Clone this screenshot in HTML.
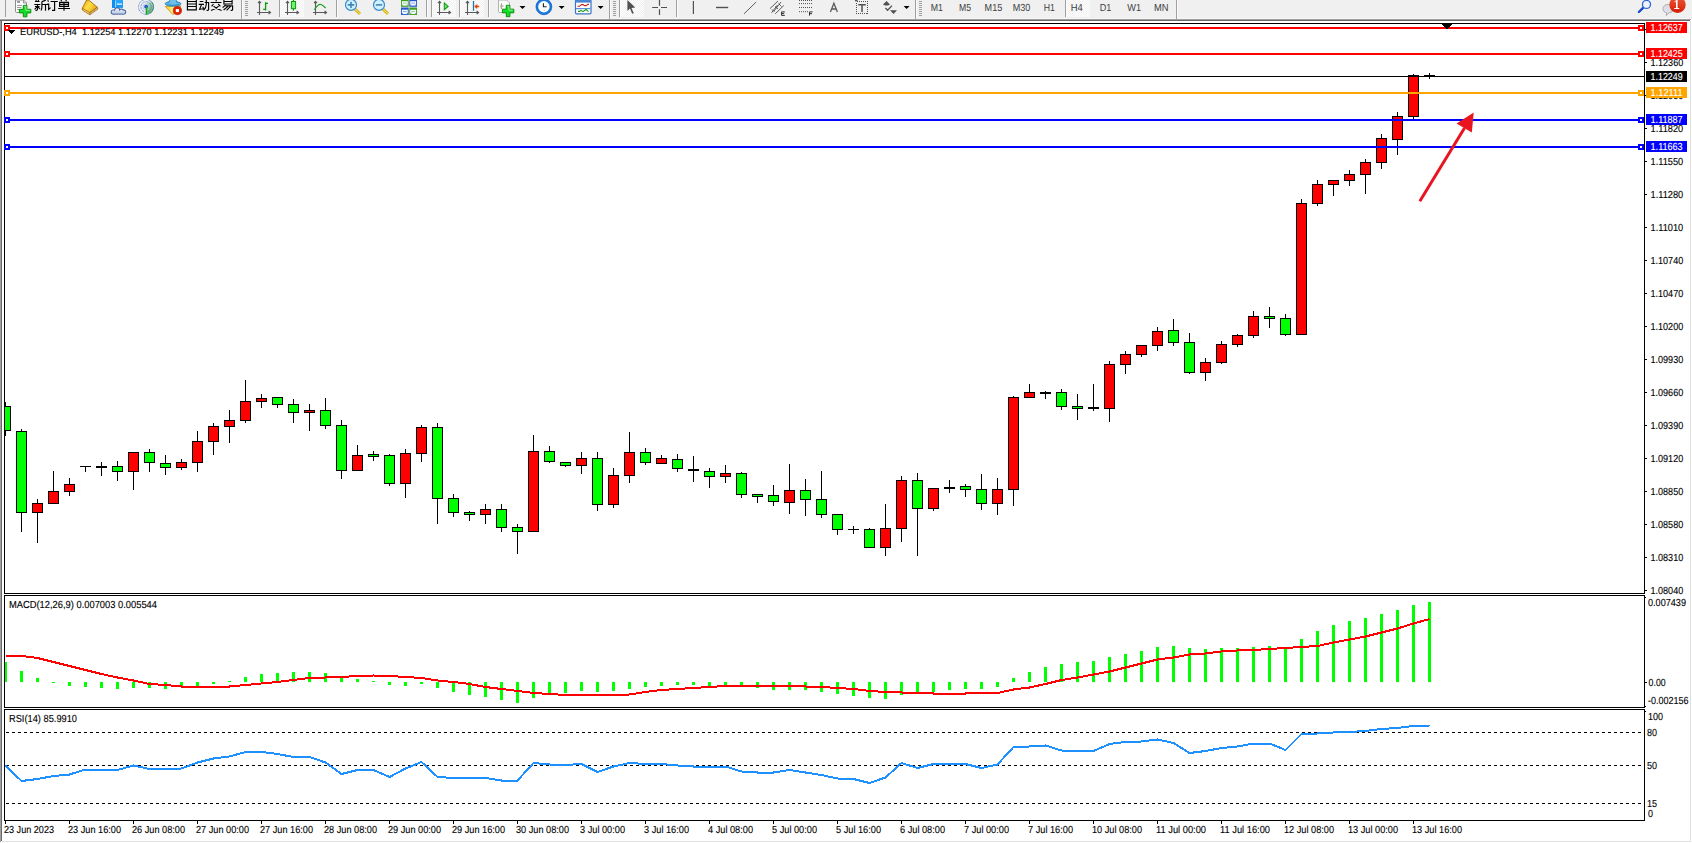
<!DOCTYPE html>
<html><head><meta charset="utf-8"><title>EURUSD H4</title>
<style>
html,body{margin:0;padding:0;background:#fff;overflow:hidden}
body{width:1692px;height:843px;position:relative;font-family:"Liberation Sans",sans-serif}
svg{position:absolute;left:0;top:0;display:block}
svg text{font-family:"Liberation Sans",sans-serif;text-rendering:geometricPrecision}
</style></head><body>
<svg width="1692" height="843" viewBox="0 0 1692 843" shape-rendering="crispEdges">
<defs>
<clipPath id="cm"><rect x="5" y="24" width="1639" height="569"/></clipPath>
<clipPath id="cmacd"><rect x="5" y="596" width="1639" height="111"/></clipPath>
<clipPath id="crsi"><rect x="5" y="710" width="1639" height="110"/></clipPath>
<pattern id="hatch" width="2" height="2" patternUnits="userSpaceOnUse"><rect width="2" height="2" fill="#f0f0f0"/><rect width="1" height="1" fill="#fff"/><rect x="1" y="1" width="1" height="1" fill="#fff"/></pattern>
<linearGradient id="gold" x1="0" y1="0" x2="1" y2="0.6"><stop offset="0" stop-color="#d89c14"/><stop offset="0.5" stop-color="#ffe040"/><stop offset="1" stop-color="#e0a820"/></linearGradient>
<linearGradient id="cloud" gradientUnits="userSpaceOnUse" x1="0" y1="7.5" x2="0" y2="14"><stop offset="0" stop-color="#ffffff"/><stop offset="1" stop-color="#b4c4de"/></linearGradient>
<linearGradient id="siggreen" gradientUnits="userSpaceOnUse" x1="146" y1="0" x2="152" y2="14"><stop offset="0" stop-color="#e4efe4"/><stop offset="1" stop-color="#4fae4f"/></linearGradient>
<linearGradient id="cone" x1="0" y1="0" x2="1" y2="0"><stop offset="0" stop-color="#f0c828"/><stop offset="0.5" stop-color="#fbf08a"/><stop offset="1" stop-color="#f0c020"/></linearGradient>
<linearGradient id="badge" x1="0" y1="0" x2="0" y2="1"><stop offset="0" stop-color="#ea5a38"/><stop offset="1" stop-color="#d61c04"/></linearGradient>
</defs>
<rect x="0" y="0" width="1692" height="843" fill="#fff"/>
<!-- window chrome -->
<rect x="0" y="0" width="1692" height="18" fill="#f0f0f0"/>
<rect x="0" y="18" width="1691" height="1" fill="#f6f6f6"/>
<rect x="1691" y="17" width="1" height="2" fill="#ececec"/>
<rect x="0" y="19" width="1691" height="1" fill="#a0a0a0"/>
<rect x="0" y="20" width="1690" height="1" fill="#696969"/>
<rect x="0" y="21" width="1" height="821" fill="#a0a0a0"/>
<rect x="1" y="21" width="1" height="820" fill="#696969"/>
<rect x="1690" y="21" width="1" height="821" fill="#e0e0e0"/>
<rect x="2" y="841" width="1689" height="1" fill="#e0e0e0"/>
<g shape-rendering="auto">
<rect x="5" y="0" width="1" height="17" fill="#a0a0a0"/>
<path d="M15.5,0V11.3Q15.5,12.5 16.8,12.5H26.5V3L23.5,0Z" fill="#fdfdfd" stroke="#8c8c8c" stroke-width="1"/>
<path d="M23.5,0V3H26.5" fill="none" stroke="#8c8c8c" stroke-width="0.9"/>
<path d="M17,2H20 M17,5.5H22 M17,7.5H21.5 M17,9.5H19" stroke="#9a9a9a" stroke-width="1"/>
<rect x="17" y="1.2" width="3" height="1.5" fill="#8c8c8c"/>
<path d="M23.3,5.4h3.6v3.9h3.9v3.6h-3.9v3.9h-3.6v-3.9h-3.9v-3.6h3.9z" fill="#10e028" stroke="#108c10" stroke-width="1"/>
<path d="M24.3,6.4h1.6v3.9h3.9" stroke="#9cf59c" stroke-width="0.9" fill="none"/>
<g stroke="#000" stroke-width="1.15" fill="none" stroke-linecap="butt">
<path d="M35,1.5H39.5 M36,0L36.3,1 M38.6,0L38.2,1 M34.3,4.5H40.3 M35,6.5H39.5 M37.5,4.5V10 M37.5,10.3L35.5,10.4 M36.8,7.2L34.6,9.4 M38.3,7.2L40,8.8"/>
<path d="M45.8,0.2L42,1.6 M41.9,1.6V6.5Q41.9,9 41,10.5 M42,4.5H48.3 M45.5,4.5V10.7"/>
<path d="M47.6,0.3L48.6,1.6 M47.3,4.2H48.7V9.4L50.6,7.6 M50.6,1.5H57.8 M54.6,1.5V10.4H52"/>
<path d="M61,0L61.6,1.2 M66.4,0L65.8,1.2 M59.6,2.4H68.5V6.4H59.6Z M59.6,4.4H68.5 M64,2.4V10.8 M58.2,8.5H70"/>
</g>
<polygon points="86.6,0 82.3,8.3 89.6,12.7 97.3,7.3 89.8,1 88.7,0" fill="url(#gold)" stroke="#a8680e" stroke-width="0.9"/>
<polygon points="82.2,8.4 82.5,10.2 89.7,14.7 89.7,12.7" fill="#e2b030" stroke="#a8680e" stroke-width="0.8"/>
<path d="M83.2,9.6L89.4,13.4" stroke="#f8e08a" stroke-width="0.8"/>
<polygon points="89.8,12.8 97.4,7.4 97.9,9.1 89.9,14.7" fill="#efe2b4" stroke="#a8680e" stroke-width="0.8"/>
<path d="M90.2,13.6L97.6,8.3" stroke="#b88428" stroke-width="0.6"/>
<rect x="112" y="0" width="11" height="8" fill="#24a4fc"/>
<rect x="112" y="0" width="3.4" height="8" fill="#0a8ef0"/>
<rect x="115.3" y="0.5" width="0.8" height="7" fill="#c8ecff"/>
<rect x="117" y="3.5" width="5" height="1.3" fill="#e8f6ff"/>
<rect x="116.2" y="5.4" width="6.8" height="1" fill="#1488e0"/>
<circle cx="113.3" cy="12.0" r="2.6" fill="#3c5c9c"/>
<circle cx="117.2" cy="10.3" r="3.0" fill="#3c5c9c"/>
<circle cx="121.4" cy="11.0" r="2.5" fill="#3c5c9c"/>
<circle cx="123.7" cy="12.1" r="2.5" fill="#3c5c9c"/>
<rect x="113.3" y="11" width="10.4" height="3.6" fill="#3c5c9c"/>
<circle cx="113.3" cy="12.0" r="1.7000000000000002" fill="url(#cloud)"/>
<circle cx="117.2" cy="10.3" r="2.1" fill="url(#cloud)"/>
<circle cx="121.4" cy="11.0" r="1.6" fill="url(#cloud)"/>
<circle cx="123.7" cy="12.1" r="1.6" fill="url(#cloud)"/>
<rect x="113.3" y="11" width="10.4" height="2.7" fill="url(#cloud)"/>
<path d="M146.05,6.9L148.07,-0.63A7.8,7.8 0 0 1 146.05,14.70Z" fill="url(#siggreen)"/>
<circle cx="146.05" cy="6.9" r="7.5" fill="none" stroke="#7f9fe0" stroke-width="1" stroke-dasharray="3,0.8"/>
<circle cx="146.05" cy="6.9" r="5.2" fill="none" stroke="#86a4e2" stroke-width="1" stroke-dasharray="2.6,0.7"/>
<circle cx="146.05" cy="6.9" r="3.1" fill="none" stroke="#a8bdea" stroke-width="0.8"/>
<path d="M151.35,1.60A7.5,7.5 0 0 1 149.80,13.40" fill="none" stroke="#41808a" stroke-width="0.9"/>
<path d="M149.39,2.92A5.2,5.2 0 0 1 147.83,11.79" fill="none" stroke="#5a9e7a" stroke-width="0.9"/>
<circle cx="146.05" cy="6.7" r="1.9" fill="#2458c8"/>
<path d="M146.5,7.2V14.7" stroke="#18a818" stroke-width="1.4"/>
<path d="M165.3,6.4L173,14.7L180.8,5.9Z" fill="url(#cone)" stroke="#cc9c10" stroke-width="0.9"/>
<ellipse cx="173" cy="3.8" rx="7.9" ry="2.4" fill="#5ab2e2" stroke="#2a88ba" stroke-width="0.9"/>
<path d="M169.6,0L168.6,3.4Q173,5 177.4,3.4L176.3,0Z" fill="#6cc0ea"/>
<path d="M169.7,0L168.8,3 M176.2,0L177.2,3" stroke="#2a88ba" stroke-width="0.8" fill="none"/>
<path d="M167,4.6Q173,6.6 179,4.4" stroke="#2a88ba" stroke-width="0.7" fill="none"/>
<circle cx="177.4" cy="10.6" r="4.1" fill="#e22004" stroke="#b41c08" stroke-width="0.7"/>
<rect x="175.8" y="9" width="3.2" height="3.1" fill="#fff"/>
<g stroke="#000" stroke-width="1.15" fill="none" stroke-linecap="butt">
<path d="M187.4,0V10.4 M196.3,0V10.4 M187.4,1.5H196.3 M187.4,4H196.3 M187.4,6.5H196.3 M187.4,9.9H196.3"/>
<path d="M199.7,1.5H203.4 M198.7,4.4H204 M201.5,4.6L199.6,9.2L203.2,8.7 M202.8,6.8L203.8,9.4 M204.6,2.5H208.6V9.6Q208.6,10.4 206.6,10.3 M206.3,0V4Q206.2,8 203.6,10.4"/>
<path d="M216,0L216.4,1.4 M210.6,2.5H221.4 M213.5,4L211.6,6.4 M218.2,4L220.4,6.4 M218.6,6.2Q215.5,9.5 211,10.5 M213.6,6.2Q216.5,9.5 221.6,10.5"/>
<path d="M223.9,0V4H232.1V0 M223.9,1.5H232.1 M225.6,5.8H232.6V9.6Q232.5,10.4 230.6,10.3 M225.6,5L222.6,7.6 M228,6.4L223.6,10 M230.5,6.4L226.6,10.3"/>
</g>
<rect x="241" y="0" width="1" height="19" fill="#a0a0a0"/>
<rect x="242" y="0" width="1" height="18" fill="#fbfbfb"/>
<rect x="245" y="1" width="3" height="1" fill="#a0a0a0"/>
<rect x="245" y="3" width="3" height="1" fill="#a0a0a0"/>
<rect x="245" y="5" width="3" height="1" fill="#a0a0a0"/>
<rect x="245" y="7" width="3" height="1" fill="#a0a0a0"/>
<rect x="245" y="9" width="3" height="1" fill="#a0a0a0"/>
<rect x="245" y="11" width="3" height="1" fill="#a0a0a0"/>
<rect x="245" y="13" width="3" height="1" fill="#a0a0a0"/>
<rect x="245" y="15" width="3" height="1" fill="#a0a0a0"/>
<g stroke="#5a5a5a" stroke-width="1.1" fill="none" shape-rendering="auto"><path d="M259.5,1.5V15 M257,12.5H270"/><path d="M258,3.2L259.5,1.3L261,3.2 M268.6,11L270.5,12.5L268.6,14"/></g>
<path d="M265.6,2.3V10.4 M265.6,3.3H268 M265.6,9.4H263.2" stroke="#0a9a0a" stroke-width="1.3" fill="none"/>
<rect x="279" y="0" width="1" height="17" fill="#a0a0a0"/>
<rect x="280" y="0" width="1" height="17" fill="#fbfbfb"/>
<rect x="281" y="0" width="23" height="17" fill="url(#hatch)"/>
<g stroke="#5a5a5a" stroke-width="1.1" fill="none" shape-rendering="auto"><path d="M287.5,1.5V15 M285,12.5H298"/><path d="M286,3.2L287.5,1.3L289,3.2 M296.6,11L298.5,12.5L296.6,14"/></g>
<path d="M293.4,0V10.8" stroke="#0a9a0a" stroke-width="1.2"/>
<rect x="291.4" y="1.5" width="4.2" height="7.2" fill="#6ef56e" stroke="#0a9a0a" stroke-width="1"/>
<g stroke="#5a5a5a" stroke-width="1.1" fill="none" shape-rendering="auto"><path d="M315.5,1.5V15 M313,12.5H326"/><path d="M314,3.2L315.5,1.3L317,3.2 M324.6,11L326.5,12.5L324.6,14"/></g>
<path d="M314.3,9.8Q318,4 320.3,4.3Q322.5,4.6 325.8,8.2" stroke="#1fa01f" stroke-width="1.2" fill="none"/>
<rect x="336" y="0" width="1" height="17" fill="#a0a0a0"/>
<rect x="337" y="0" width="1" height="17" fill="#fbfbfb"/>
<path d="M355,9.2L360,13.8" stroke="#d8b418" stroke-width="3"/>
<path d="M355,9.2L360,13.8" stroke="#f4e27a" stroke-width="1"/>
<circle cx="351" cy="4.9" r="5.5" fill="#d2effc" stroke="#3a8ad0" stroke-width="1.2"/>
<path d="M347.8,4.9H354.2 M351,1.7V8.1" stroke="#3f86b8" stroke-width="1.6"/>
<path d="M383,9.2L388,13.8" stroke="#d8b418" stroke-width="3"/>
<path d="M383,9.2L388,13.8" stroke="#f4e27a" stroke-width="1"/>
<circle cx="379" cy="4.9" r="5.5" fill="#d2effc" stroke="#3a8ad0" stroke-width="1.2"/>
<path d="M375.8,4.9H382.2" stroke="#3f86b8" stroke-width="1.6"/>
<rect x="401" y="0" width="7.7" height="6.8" fill="#3aa01c"/>
<rect x="401.9" y="1.2" width="5.9" height="4.4" fill="#f6faff"/>
<rect x="402.9" y="2.5999999999999996" width="3.9" height="1" fill="#3aa01c" opacity="0.5"/>
<rect x="401.9" y="4.6" width="1" height="1" fill="#3aa01c" opacity="0.8"/>
<rect x="406.8" y="4.6" width="1" height="1" fill="#3aa01c" opacity="0.8"/>
<rect x="409.3" y="0" width="7.7" height="6.8" fill="#2458d0"/>
<rect x="410.2" y="1.2" width="5.9" height="4.4" fill="#f6faff"/>
<rect x="411.2" y="2.5999999999999996" width="3.9" height="1" fill="#2458d0" opacity="0.5"/>
<rect x="410.2" y="4.6" width="1" height="1" fill="#2458d0" opacity="0.8"/>
<rect x="415.1" y="4.6" width="1" height="1" fill="#2458d0" opacity="0.8"/>
<rect x="401" y="7.5" width="7.7" height="7.5" fill="#2458d0"/>
<rect x="401.9" y="9.7" width="5.9" height="4.4" fill="#f6faff"/>
<rect x="402.9" y="11.1" width="3.9" height="1" fill="#2458d0" opacity="0.5"/>
<rect x="401.9" y="13.1" width="1" height="1" fill="#2458d0" opacity="0.8"/>
<rect x="406.8" y="13.1" width="1" height="1" fill="#2458d0" opacity="0.8"/>
<rect x="409.3" y="7.5" width="7.7" height="7.5" fill="#3aa01c"/>
<rect x="410.2" y="9.7" width="5.9" height="4.4" fill="#f6faff"/>
<rect x="411.2" y="11.1" width="3.9" height="1" fill="#3aa01c" opacity="0.5"/>
<rect x="410.2" y="13.1" width="1" height="1" fill="#3aa01c" opacity="0.8"/>
<rect x="415.1" y="13.1" width="1" height="1" fill="#3aa01c" opacity="0.8"/>
<rect x="426" y="0" width="1" height="17" fill="#a0a0a0"/>
<rect x="427" y="0" width="1" height="17" fill="#fbfbfb"/>
<rect x="431" y="0" width="1" height="17" fill="#a0a0a0"/>
<rect x="432" y="0" width="1" height="17" fill="#fbfbfb"/>
<rect x="433" y="0" width="23" height="17" fill="url(#hatch)"/>
<g stroke="#5a5a5a" stroke-width="1.1" fill="none" shape-rendering="auto"><path d="M439.5,1.5V15 M437,12.5H450"/><path d="M438,3.2L439.5,1.3L441,3.2 M448.6,11L450.5,12.5L448.6,14"/></g>
<polygon points="444.3,3 444.3,9.7 448.1,6.4" fill="#7fe07f" stroke="#14a014" stroke-width="1.1"/>
<rect x="459" y="0" width="1" height="17" fill="#a0a0a0"/>
<rect x="460" y="0" width="1" height="17" fill="#fbfbfb"/>
<rect x="461" y="0" width="23" height="17" fill="url(#hatch)"/>
<g stroke="#5a5a5a" stroke-width="1.1" fill="none" shape-rendering="auto"><path d="M467.5,1.5V15 M465,12.5H478"/><path d="M466,3.2L467.5,1.3L469,3.2 M476.6,11L478.5,12.5L476.6,14"/></g>
<path d="M473.5,1V10.8" stroke="#1878b0" stroke-width="1.3"/>
<path d="M475,6.5H479.2 M477.2,4.6L475.2,6.5L477.2,8.4" stroke="#e04808" stroke-width="1.3" fill="none"/>
<rect x="488" y="0" width="1" height="17" fill="#a0a0a0"/>
<rect x="489" y="0" width="1" height="17" fill="#fbfbfb"/>
<path d="M498.5,0V11.5Q498.5,12.5 499.5,12.5H509.5V3L506.5,0Z" fill="#fdfdfd" stroke="#b0b0b0" stroke-width="1"/>
<path d="M501.5,3.5Q500.5,6 501.5,9 M501.5,6H503.5" stroke="#8a7a50" stroke-width="0.9" fill="none"/>
<path d="M506.3,5.3h3.6v3.9h3.9v3.6h-3.9v3.9h-3.6v-3.9h-3.9v-3.6h3.9z" fill="#10e028" stroke="#108c10" stroke-width="1"/>
<path d="M507.3,6.3h1.6v3.9h3.9" stroke="#9cf59c" stroke-width="0.9" fill="none"/>
<polygon points="519.5,6 525.5,6 522.5,9" fill="#000"/>
<circle cx="543.9" cy="6.8" r="6.9" fill="#fafcff" stroke="#1b78dc" stroke-width="2.4"/>
<circle cx="543.9" cy="6.8" r="8" fill="none" stroke="#0d5cc0" stroke-width="0.5"/>
<path d="M543.4,3.2V6.8H546.6" stroke="#202020" stroke-width="1.1" fill="none"/>
<path d="M543.9,10.2H545" stroke="#9ac8ff" stroke-width="0.9"/>
<polygon points="558.6,6 564.6,6 561.6,9" fill="#000"/>
<rect x="575.5" y="0" width="15.5" height="13.8" rx="1" fill="#fff" stroke="#3a74c4" stroke-width="1.2"/>
<rect x="575.5" y="0" width="15.5" height="2.6" fill="#4a86d4"/>
<rect x="576" y="8" width="14.5" height="1.2" fill="#5a90d8"/>
<path d="M577.5,6.3H579.5L581.5,4.6H583L584.5,5.6H586L588,4.4H589" stroke="#c02010" stroke-width="1.1" fill="none"/>
<path d="M578,11.4H579.5L581,10.4L583,11.6L586,9.4L588.5,11.6" stroke="#169a16" stroke-width="1.1" fill="none"/>
<polygon points="597.6,6 603.6,6 600.6,9" fill="#000"/>
<rect x="609" y="0" width="1" height="19" fill="#a0a0a0"/>
<rect x="610" y="0" width="1" height="18" fill="#fbfbfb"/>
<rect x="613" y="1" width="3" height="1" fill="#a0a0a0"/>
<rect x="613" y="3" width="3" height="1" fill="#a0a0a0"/>
<rect x="613" y="5" width="3" height="1" fill="#a0a0a0"/>
<rect x="613" y="7" width="3" height="1" fill="#a0a0a0"/>
<rect x="613" y="9" width="3" height="1" fill="#a0a0a0"/>
<rect x="613" y="11" width="3" height="1" fill="#a0a0a0"/>
<rect x="613" y="13" width="3" height="1" fill="#a0a0a0"/>
<rect x="613" y="15" width="3" height="1" fill="#a0a0a0"/>
<rect x="619" y="0" width="1" height="17" fill="#a0a0a0"/>
<rect x="620" y="0" width="1" height="17" fill="#fbfbfb"/>
<rect x="621" y="0" width="23" height="17" fill="url(#hatch)"/>
<polygon points="627.4,0 627.4,10.9 630,8.6 632.2,13.8 633.8,13.2 631.5,8.1 635.3,7.6" fill="#505050"/>
<path d="M652.2,7.5H658 M661,7.5H667 M659.5,0V5.8 M659.5,9.2V15" stroke="#505050" stroke-width="1.2"/>
<rect x="676" y="0" width="1" height="17" fill="#a0a0a0"/>
<rect x="677" y="0" width="1" height="17" fill="#fbfbfb"/>
<path d="M693.4,1V14" stroke="#505050" stroke-width="1.2"/>
<path d="M716,7.5H728.2" stroke="#505050" stroke-width="1.4"/>
<path d="M744,13.8L756.2,2" stroke="#606060" stroke-width="1"/>
<path d="M770,8.6L778,1 M775.2,13.8L783.8,5.5 M771.5,12.8L777.5,5 M774,11L781,2 M772,9.5L774.5,12 M775,6.5L778,9 M778.5,3.5L781.5,6.5" stroke="#505050" stroke-width="0.9" fill="none"/>
<path d="M784.8,11.9H781.6V15.4H784.8 M781.6,13.6H784.2" stroke="#303030" stroke-width="1" fill="none"/>
<path d="M799,0.5H812.5" stroke="#505050" stroke-width="1" stroke-dasharray="1,1"/>
<path d="M799,3.6H812.5" stroke="#505050" stroke-width="1" stroke-dasharray="1,1"/>
<path d="M799,7.5H812.5" stroke="#505050" stroke-width="1" stroke-dasharray="1,1"/>
<path d="M799,11.7H808" stroke="#505050" stroke-width="1" stroke-dasharray="1,1"/>
<path d="M812.6,11.9H809.5V15.6 M809.5,13.7H812" stroke="#303030" stroke-width="1" fill="none"/>
<path d="M830.4,12L833.9,3.2L837.4,12 M831.7,9H836" stroke="#5a5a5a" stroke-width="1.3" fill="none"/>
<rect x="856.5" y="1.5" width="11" height="12" fill="none" stroke="#505050" stroke-width="1" stroke-dasharray="1,1" shape-rendering="crispEdges"/>
<path d="M855,0.5H857.5" stroke="#505050" stroke-width="1.6"/>
<path d="M858.3,4.8H865.8 M862,4.8V12" stroke="#505050" stroke-width="1.5" fill="none"/>
<polygon points="883,4.6 886.5,1 890,4.6 888,5.4 885,5.4" fill="#505050"/>
<path d="M885.4,8L887.6,10.2L892,5.6" stroke="#505050" stroke-width="1.3" fill="none"/>
<polygon points="890,10.2 897,10.2 893.5,14" fill="#505050"/>
<polygon points="903.6,6 909.6,6 906.6,9" fill="#000"/>
<rect x="915" y="0" width="1" height="19" fill="#a0a0a0"/>
<rect x="916" y="0" width="1" height="18" fill="#fbfbfb"/>
<rect x="919" y="1" width="3" height="1" fill="#a0a0a0"/>
<rect x="919" y="3" width="3" height="1" fill="#a0a0a0"/>
<rect x="919" y="5" width="3" height="1" fill="#a0a0a0"/>
<rect x="919" y="7" width="3" height="1" fill="#a0a0a0"/>
<rect x="919" y="9" width="3" height="1" fill="#a0a0a0"/>
<rect x="919" y="11" width="3" height="1" fill="#a0a0a0"/>
<rect x="919" y="13" width="3" height="1" fill="#a0a0a0"/>
<rect x="919" y="15" width="3" height="1" fill="#a0a0a0"/>
<rect x="1067" y="0" width="23" height="17" fill="url(#hatch)"/>
<rect x="1065" y="0" width="1" height="17" fill="#a0a0a0"/>
<rect x="1066" y="0" width="1" height="17" fill="#fbfbfb"/>
<text x="930.8" y="11" font-size="10.3" fill="#404040" textLength="12.2" lengthAdjust="spacingAndGlyphs">M1</text>
<text x="959" y="11" font-size="10.3" fill="#404040" textLength="12" lengthAdjust="spacingAndGlyphs">M5</text>
<text x="984.6" y="11" font-size="10.3" fill="#404040" textLength="17.6" lengthAdjust="spacingAndGlyphs">M15</text>
<text x="1012.7" y="11" font-size="10.3" fill="#404040" textLength="17.6" lengthAdjust="spacingAndGlyphs">M30</text>
<text x="1043.8" y="11" font-size="10.3" fill="#404040" textLength="11.2" lengthAdjust="spacingAndGlyphs">H1</text>
<text x="1070.7" y="11" font-size="10.3" fill="#404040" textLength="12" lengthAdjust="spacingAndGlyphs">H4</text>
<text x="1099.8" y="11" font-size="10.3" fill="#404040" textLength="11.6" lengthAdjust="spacingAndGlyphs">D1</text>
<text x="1127.3" y="11" font-size="10.3" fill="#404040" textLength="13.8" lengthAdjust="spacingAndGlyphs">W1</text>
<text x="1153.9" y="11" font-size="10.3" fill="#404040" textLength="14.5" lengthAdjust="spacingAndGlyphs">MN</text>
<rect x="1176" y="0" width="1" height="19" fill="#a0a0a0"/>
<rect x="1177" y="0" width="1" height="18" fill="#fbfbfb"/>
<path d="M1643.3,7.6L1638.9,12" stroke="#1c4cc4" stroke-width="2.4" stroke-linecap="round"/>
<circle cx="1646.5" cy="4.4" r="4" fill="#f2f2ff" stroke="#2a62d8" stroke-width="1.3"/>
<path d="M1665.2,12.4Q1662.8,11.4 1663,8.6Q1663.4,4.6 1668.2,4.4Q1673,4.4 1673.4,8.6Q1673.4,12.6 1668.8,12.9L1666.3,15.6L1666.7,12.9Z" fill="#dedee8" stroke="#a8a8a8" stroke-width="0.9"/>
<circle cx="1677.5" cy="4.8" r="8.2" fill="url(#badge)"/>
<path d="M1674.6,1.4L1676.6,0H1677.6V7.9H1679.3V8.9H1674.2V7.9H1676V1.6L1674.6,2.4Z" fill="#fff"/>
</g>
<rect x="4" y="23" width="1641" height="1" fill="#000"/>
<rect x="4" y="23" width="1" height="798" fill="#000"/>
<rect x="1644" y="23" width="1" height="798" fill="#000"/>
<rect x="4" y="593" width="1641" height="1" fill="#000"/>
<rect x="4" y="594" width="1641" height="1" fill="#fff"/>
<rect x="4" y="595" width="1641" height="1" fill="#000"/>
<rect x="4" y="707" width="1641" height="1" fill="#000"/>
<rect x="4" y="708" width="1641" height="1" fill="#fff"/>
<rect x="4" y="709" width="1641" height="1" fill="#000"/>
<rect x="4" y="820" width="1641" height="1" fill="#000"/>
<g clip-path="url(#cm)">
<rect x="5" y="402" width="1" height="34" fill="#000"/>
<rect x="0" y="406" width="11" height="25" fill="#000"/>
<rect x="1" y="407" width="9" height="23" fill="#00ff00"/>
<rect x="21" y="429" width="1" height="103" fill="#000"/>
<rect x="16" y="431" width="11" height="82" fill="#000"/>
<rect x="17" y="432" width="9" height="80" fill="#00ff00"/>
<rect x="37" y="499" width="1" height="44" fill="#000"/>
<rect x="32" y="503" width="11" height="10" fill="#000"/>
<rect x="33" y="504" width="9" height="8" fill="#ff0000"/>
<rect x="53" y="471" width="1" height="33" fill="#000"/>
<rect x="48" y="491" width="11" height="13" fill="#000"/>
<rect x="49" y="492" width="9" height="11" fill="#ff0000"/>
<rect x="69" y="478" width="1" height="18" fill="#000"/>
<rect x="64" y="484" width="11" height="8" fill="#000"/>
<rect x="65" y="485" width="9" height="6" fill="#ff0000"/>
<rect x="85" y="466" width="1" height="6" fill="#000"/>
<rect x="80" y="466" width="11" height="1" fill="#000"/>
<rect x="101" y="462" width="1" height="14" fill="#000"/>
<rect x="96" y="466" width="11" height="2" fill="#000"/>
<rect x="117" y="461" width="1" height="20" fill="#000"/>
<rect x="112" y="466" width="11" height="6" fill="#000"/>
<rect x="113" y="467" width="9" height="4" fill="#00ff00"/>
<rect x="133" y="452" width="1" height="38" fill="#000"/>
<rect x="128" y="452" width="11" height="20" fill="#000"/>
<rect x="129" y="453" width="9" height="18" fill="#ff0000"/>
<rect x="149" y="449" width="1" height="23" fill="#000"/>
<rect x="144" y="452" width="11" height="11" fill="#000"/>
<rect x="145" y="453" width="9" height="9" fill="#00ff00"/>
<rect x="165" y="455" width="1" height="20" fill="#000"/>
<rect x="160" y="463" width="11" height="5" fill="#000"/>
<rect x="161" y="464" width="9" height="3" fill="#00ff00"/>
<rect x="181" y="459" width="1" height="11" fill="#000"/>
<rect x="176" y="462" width="11" height="6" fill="#000"/>
<rect x="177" y="463" width="9" height="4" fill="#ff0000"/>
<rect x="197" y="431" width="1" height="41" fill="#000"/>
<rect x="192" y="441" width="11" height="22" fill="#000"/>
<rect x="193" y="442" width="9" height="20" fill="#ff0000"/>
<rect x="213" y="423" width="1" height="32" fill="#000"/>
<rect x="208" y="426" width="11" height="16" fill="#000"/>
<rect x="209" y="427" width="9" height="14" fill="#ff0000"/>
<rect x="229" y="410" width="1" height="33" fill="#000"/>
<rect x="224" y="420" width="11" height="7" fill="#000"/>
<rect x="225" y="421" width="9" height="5" fill="#ff0000"/>
<rect x="245" y="380" width="1" height="43" fill="#000"/>
<rect x="240" y="401" width="11" height="20" fill="#000"/>
<rect x="241" y="402" width="9" height="18" fill="#ff0000"/>
<rect x="261" y="394" width="1" height="14" fill="#000"/>
<rect x="256" y="398" width="11" height="4" fill="#000"/>
<rect x="257" y="399" width="9" height="2" fill="#ff0000"/>
<rect x="277" y="397" width="1" height="11" fill="#000"/>
<rect x="272" y="397" width="11" height="8" fill="#000"/>
<rect x="273" y="398" width="9" height="6" fill="#00ff00"/>
<rect x="293" y="399" width="1" height="24" fill="#000"/>
<rect x="288" y="404" width="11" height="9" fill="#000"/>
<rect x="289" y="405" width="9" height="7" fill="#00ff00"/>
<rect x="309" y="404" width="1" height="27" fill="#000"/>
<rect x="304" y="410" width="11" height="3" fill="#000"/>
<rect x="305" y="411" width="9" height="1" fill="#ff0000"/>
<rect x="325" y="398" width="1" height="31" fill="#000"/>
<rect x="320" y="410" width="11" height="16" fill="#000"/>
<rect x="321" y="411" width="9" height="14" fill="#00ff00"/>
<rect x="341" y="420" width="1" height="59" fill="#000"/>
<rect x="336" y="425" width="11" height="46" fill="#000"/>
<rect x="337" y="426" width="9" height="44" fill="#00ff00"/>
<rect x="357" y="445" width="1" height="26" fill="#000"/>
<rect x="352" y="455" width="11" height="16" fill="#000"/>
<rect x="353" y="456" width="9" height="14" fill="#ff0000"/>
<rect x="373" y="451" width="1" height="10" fill="#000"/>
<rect x="368" y="454" width="11" height="3" fill="#000"/>
<rect x="369" y="455" width="9" height="1" fill="#00ff00"/>
<rect x="389" y="454" width="1" height="32" fill="#000"/>
<rect x="384" y="455" width="11" height="29" fill="#000"/>
<rect x="385" y="456" width="9" height="27" fill="#00ff00"/>
<rect x="405" y="449" width="1" height="49" fill="#000"/>
<rect x="400" y="453" width="11" height="31" fill="#000"/>
<rect x="401" y="454" width="9" height="29" fill="#ff0000"/>
<rect x="421" y="425" width="1" height="37" fill="#000"/>
<rect x="416" y="427" width="11" height="27" fill="#000"/>
<rect x="417" y="428" width="9" height="25" fill="#ff0000"/>
<rect x="437" y="423" width="1" height="101" fill="#000"/>
<rect x="432" y="427" width="11" height="72" fill="#000"/>
<rect x="433" y="428" width="9" height="70" fill="#00ff00"/>
<rect x="453" y="494" width="1" height="23" fill="#000"/>
<rect x="448" y="498" width="11" height="15" fill="#000"/>
<rect x="449" y="499" width="9" height="13" fill="#00ff00"/>
<rect x="469" y="511" width="1" height="10" fill="#000"/>
<rect x="464" y="512" width="11" height="3" fill="#000"/>
<rect x="465" y="513" width="9" height="1" fill="#00ff00"/>
<rect x="485" y="504" width="1" height="20" fill="#000"/>
<rect x="480" y="509" width="11" height="6" fill="#000"/>
<rect x="481" y="510" width="9" height="4" fill="#ff0000"/>
<rect x="501" y="504" width="1" height="28" fill="#000"/>
<rect x="496" y="509" width="11" height="19" fill="#000"/>
<rect x="497" y="510" width="9" height="17" fill="#00ff00"/>
<rect x="517" y="524" width="1" height="30" fill="#000"/>
<rect x="512" y="527" width="11" height="5" fill="#000"/>
<rect x="513" y="528" width="9" height="3" fill="#00ff00"/>
<rect x="533" y="435" width="1" height="97" fill="#000"/>
<rect x="528" y="451" width="11" height="81" fill="#000"/>
<rect x="529" y="452" width="9" height="79" fill="#ff0000"/>
<rect x="549" y="446" width="1" height="17" fill="#000"/>
<rect x="544" y="451" width="11" height="11" fill="#000"/>
<rect x="545" y="452" width="9" height="9" fill="#00ff00"/>
<rect x="565" y="462" width="1" height="5" fill="#000"/>
<rect x="560" y="462" width="11" height="4" fill="#000"/>
<rect x="561" y="463" width="9" height="2" fill="#00ff00"/>
<rect x="581" y="452" width="1" height="22" fill="#000"/>
<rect x="576" y="458" width="11" height="8" fill="#000"/>
<rect x="577" y="459" width="9" height="6" fill="#ff0000"/>
<rect x="597" y="452" width="1" height="59" fill="#000"/>
<rect x="592" y="458" width="11" height="47" fill="#000"/>
<rect x="593" y="459" width="9" height="45" fill="#00ff00"/>
<rect x="613" y="468" width="1" height="40" fill="#000"/>
<rect x="608" y="475" width="11" height="30" fill="#000"/>
<rect x="609" y="476" width="9" height="28" fill="#ff0000"/>
<rect x="629" y="432" width="1" height="51" fill="#000"/>
<rect x="624" y="452" width="11" height="24" fill="#000"/>
<rect x="625" y="453" width="9" height="22" fill="#ff0000"/>
<rect x="645" y="448" width="1" height="17" fill="#000"/>
<rect x="640" y="452" width="11" height="11" fill="#000"/>
<rect x="641" y="453" width="9" height="9" fill="#00ff00"/>
<rect x="661" y="455" width="1" height="9" fill="#000"/>
<rect x="656" y="458" width="11" height="6" fill="#000"/>
<rect x="657" y="459" width="9" height="4" fill="#ff0000"/>
<rect x="677" y="454" width="1" height="18" fill="#000"/>
<rect x="672" y="459" width="11" height="10" fill="#000"/>
<rect x="673" y="460" width="9" height="8" fill="#00ff00"/>
<rect x="693" y="456" width="1" height="26" fill="#000"/>
<rect x="688" y="469" width="11" height="2" fill="#000"/>
<rect x="709" y="468" width="1" height="20" fill="#000"/>
<rect x="704" y="471" width="11" height="6" fill="#000"/>
<rect x="705" y="472" width="9" height="4" fill="#00ff00"/>
<rect x="725" y="465" width="1" height="18" fill="#000"/>
<rect x="720" y="473" width="11" height="4" fill="#000"/>
<rect x="721" y="474" width="9" height="2" fill="#ff0000"/>
<rect x="741" y="472" width="1" height="26" fill="#000"/>
<rect x="736" y="473" width="11" height="22" fill="#000"/>
<rect x="737" y="474" width="9" height="20" fill="#00ff00"/>
<rect x="757" y="494" width="1" height="9" fill="#000"/>
<rect x="752" y="494" width="11" height="3" fill="#000"/>
<rect x="753" y="495" width="9" height="1" fill="#00ff00"/>
<rect x="773" y="485" width="1" height="21" fill="#000"/>
<rect x="768" y="495" width="11" height="7" fill="#000"/>
<rect x="769" y="496" width="9" height="5" fill="#00ff00"/>
<rect x="789" y="464" width="1" height="50" fill="#000"/>
<rect x="784" y="490" width="11" height="13" fill="#000"/>
<rect x="785" y="491" width="9" height="11" fill="#ff0000"/>
<rect x="805" y="479" width="1" height="37" fill="#000"/>
<rect x="800" y="490" width="11" height="10" fill="#000"/>
<rect x="801" y="491" width="9" height="8" fill="#00ff00"/>
<rect x="821" y="471" width="1" height="47" fill="#000"/>
<rect x="816" y="499" width="11" height="16" fill="#000"/>
<rect x="817" y="500" width="9" height="14" fill="#00ff00"/>
<rect x="837" y="514" width="1" height="21" fill="#000"/>
<rect x="832" y="514" width="11" height="16" fill="#000"/>
<rect x="833" y="515" width="9" height="14" fill="#00ff00"/>
<rect x="853" y="526" width="1" height="8" fill="#000"/>
<rect x="848" y="529" width="11" height="1" fill="#000"/>
<rect x="869" y="528" width="1" height="20" fill="#000"/>
<rect x="864" y="529" width="11" height="19" fill="#000"/>
<rect x="865" y="530" width="9" height="17" fill="#00ff00"/>
<rect x="885" y="504" width="1" height="52" fill="#000"/>
<rect x="880" y="528" width="11" height="20" fill="#000"/>
<rect x="881" y="529" width="9" height="18" fill="#ff0000"/>
<rect x="901" y="476" width="1" height="66" fill="#000"/>
<rect x="896" y="480" width="11" height="49" fill="#000"/>
<rect x="897" y="481" width="9" height="47" fill="#ff0000"/>
<rect x="917" y="473" width="1" height="83" fill="#000"/>
<rect x="912" y="480" width="11" height="29" fill="#000"/>
<rect x="913" y="481" width="9" height="27" fill="#00ff00"/>
<rect x="933" y="488" width="1" height="23" fill="#000"/>
<rect x="928" y="488" width="11" height="21" fill="#000"/>
<rect x="929" y="489" width="9" height="19" fill="#ff0000"/>
<rect x="949" y="480" width="1" height="13" fill="#000"/>
<rect x="944" y="487" width="11" height="2" fill="#000"/>
<rect x="965" y="484" width="1" height="13" fill="#000"/>
<rect x="960" y="486" width="11" height="4" fill="#000"/>
<rect x="961" y="487" width="9" height="2" fill="#00ff00"/>
<rect x="981" y="474" width="1" height="36" fill="#000"/>
<rect x="976" y="489" width="11" height="15" fill="#000"/>
<rect x="977" y="490" width="9" height="13" fill="#00ff00"/>
<rect x="997" y="478" width="1" height="37" fill="#000"/>
<rect x="992" y="489" width="11" height="15" fill="#000"/>
<rect x="993" y="490" width="9" height="13" fill="#ff0000"/>
<rect x="1013" y="396" width="1" height="110" fill="#000"/>
<rect x="1008" y="397" width="11" height="93" fill="#000"/>
<rect x="1009" y="398" width="9" height="91" fill="#ff0000"/>
<rect x="1029" y="384" width="1" height="14" fill="#000"/>
<rect x="1024" y="392" width="11" height="6" fill="#000"/>
<rect x="1025" y="393" width="9" height="4" fill="#ff0000"/>
<rect x="1045" y="391" width="1" height="8" fill="#000"/>
<rect x="1040" y="392" width="11" height="2" fill="#000"/>
<rect x="1061" y="389" width="1" height="21" fill="#000"/>
<rect x="1056" y="392" width="11" height="15" fill="#000"/>
<rect x="1057" y="393" width="9" height="13" fill="#00ff00"/>
<rect x="1077" y="394" width="1" height="26" fill="#000"/>
<rect x="1072" y="406" width="11" height="3" fill="#000"/>
<rect x="1073" y="407" width="9" height="1" fill="#00ff00"/>
<rect x="1093" y="384" width="1" height="27" fill="#000"/>
<rect x="1088" y="407" width="11" height="2" fill="#000"/>
<rect x="1109" y="361" width="1" height="61" fill="#000"/>
<rect x="1104" y="364" width="11" height="45" fill="#000"/>
<rect x="1105" y="365" width="9" height="43" fill="#ff0000"/>
<rect x="1125" y="351" width="1" height="23" fill="#000"/>
<rect x="1120" y="354" width="11" height="11" fill="#000"/>
<rect x="1121" y="355" width="9" height="9" fill="#ff0000"/>
<rect x="1141" y="345" width="1" height="12" fill="#000"/>
<rect x="1136" y="345" width="11" height="10" fill="#000"/>
<rect x="1137" y="346" width="9" height="8" fill="#ff0000"/>
<rect x="1157" y="327" width="1" height="24" fill="#000"/>
<rect x="1152" y="331" width="11" height="15" fill="#000"/>
<rect x="1153" y="332" width="9" height="13" fill="#ff0000"/>
<rect x="1173" y="319" width="1" height="27" fill="#000"/>
<rect x="1168" y="330" width="11" height="13" fill="#000"/>
<rect x="1169" y="331" width="9" height="11" fill="#00ff00"/>
<rect x="1189" y="333" width="1" height="41" fill="#000"/>
<rect x="1184" y="342" width="11" height="31" fill="#000"/>
<rect x="1185" y="343" width="9" height="29" fill="#00ff00"/>
<rect x="1205" y="358" width="1" height="23" fill="#000"/>
<rect x="1200" y="362" width="11" height="11" fill="#000"/>
<rect x="1201" y="363" width="9" height="9" fill="#ff0000"/>
<rect x="1221" y="341" width="1" height="23" fill="#000"/>
<rect x="1216" y="344" width="11" height="19" fill="#000"/>
<rect x="1217" y="345" width="9" height="17" fill="#ff0000"/>
<rect x="1237" y="334" width="1" height="13" fill="#000"/>
<rect x="1232" y="335" width="11" height="10" fill="#000"/>
<rect x="1233" y="336" width="9" height="8" fill="#ff0000"/>
<rect x="1253" y="311" width="1" height="27" fill="#000"/>
<rect x="1248" y="316" width="11" height="20" fill="#000"/>
<rect x="1249" y="317" width="9" height="18" fill="#ff0000"/>
<rect x="1269" y="307" width="1" height="21" fill="#000"/>
<rect x="1264" y="316" width="11" height="3" fill="#000"/>
<rect x="1265" y="317" width="9" height="1" fill="#00ff00"/>
<rect x="1285" y="314" width="1" height="22" fill="#000"/>
<rect x="1280" y="318" width="11" height="17" fill="#000"/>
<rect x="1281" y="319" width="9" height="15" fill="#00ff00"/>
<rect x="1301" y="199" width="1" height="136" fill="#000"/>
<rect x="1296" y="203" width="11" height="132" fill="#000"/>
<rect x="1297" y="204" width="9" height="130" fill="#ff0000"/>
<rect x="1317" y="180" width="1" height="26" fill="#000"/>
<rect x="1312" y="184" width="11" height="20" fill="#000"/>
<rect x="1313" y="185" width="9" height="18" fill="#ff0000"/>
<rect x="1333" y="180" width="1" height="16" fill="#000"/>
<rect x="1328" y="180" width="11" height="5" fill="#000"/>
<rect x="1329" y="181" width="9" height="3" fill="#ff0000"/>
<rect x="1349" y="170" width="1" height="16" fill="#000"/>
<rect x="1344" y="174" width="11" height="7" fill="#000"/>
<rect x="1345" y="175" width="9" height="5" fill="#ff0000"/>
<rect x="1365" y="159" width="1" height="35" fill="#000"/>
<rect x="1360" y="162" width="11" height="13" fill="#000"/>
<rect x="1361" y="163" width="9" height="11" fill="#ff0000"/>
<rect x="1381" y="134" width="1" height="35" fill="#000"/>
<rect x="1376" y="138" width="11" height="25" fill="#000"/>
<rect x="1377" y="139" width="9" height="23" fill="#ff0000"/>
<rect x="1397" y="112" width="1" height="43" fill="#000"/>
<rect x="1392" y="116" width="11" height="24" fill="#000"/>
<rect x="1393" y="117" width="9" height="22" fill="#ff0000"/>
<rect x="1413" y="74" width="1" height="45" fill="#000"/>
<rect x="1408" y="75" width="11" height="42" fill="#000"/>
<rect x="1409" y="76" width="9" height="40" fill="#ff0000"/>
<rect x="1429" y="73" width="1" height="6" fill="#000"/>
<rect x="1424" y="75" width="11" height="2" fill="#000"/>
</g>
<rect x="1645" y="29" width="2" height="1" fill="#000"/>
<text x="1650.5" y="33" fill="#000" stroke="#000" stroke-width="0.12" font-size="10.2" textLength="32.7" lengthAdjust="spacingAndGlyphs">1.12630</text>
<rect x="1645" y="62" width="2" height="1" fill="#000"/>
<text x="1650.5" y="66" fill="#000" stroke="#000" stroke-width="0.12" font-size="10.2" textLength="32.7" lengthAdjust="spacingAndGlyphs">1.12360</text>
<rect x="1645" y="95" width="2" height="1" fill="#000"/>
<text x="1650.5" y="99" fill="#000" stroke="#000" stroke-width="0.12" font-size="10.2" textLength="32.7" lengthAdjust="spacingAndGlyphs">1.12090</text>
<rect x="1645" y="128" width="2" height="1" fill="#000"/>
<text x="1650.5" y="132" fill="#000" stroke="#000" stroke-width="0.12" font-size="10.2" textLength="32.7" lengthAdjust="spacingAndGlyphs">1.11820</text>
<rect x="1645" y="161" width="2" height="1" fill="#000"/>
<text x="1650.5" y="165" fill="#000" stroke="#000" stroke-width="0.12" font-size="10.2" textLength="32.7" lengthAdjust="spacingAndGlyphs">1.11550</text>
<rect x="1645" y="194" width="2" height="1" fill="#000"/>
<text x="1650.5" y="198" fill="#000" stroke="#000" stroke-width="0.12" font-size="10.2" textLength="32.7" lengthAdjust="spacingAndGlyphs">1.11280</text>
<rect x="1645" y="227" width="2" height="1" fill="#000"/>
<text x="1650.5" y="231" fill="#000" stroke="#000" stroke-width="0.12" font-size="10.2" textLength="32.7" lengthAdjust="spacingAndGlyphs">1.11010</text>
<rect x="1645" y="260" width="2" height="1" fill="#000"/>
<text x="1650.5" y="264" fill="#000" stroke="#000" stroke-width="0.12" font-size="10.2" textLength="32.7" lengthAdjust="spacingAndGlyphs">1.10740</text>
<rect x="1645" y="293" width="2" height="1" fill="#000"/>
<text x="1650.5" y="297" fill="#000" stroke="#000" stroke-width="0.12" font-size="10.2" textLength="32.7" lengthAdjust="spacingAndGlyphs">1.10470</text>
<rect x="1645" y="326" width="2" height="1" fill="#000"/>
<text x="1650.5" y="330" fill="#000" stroke="#000" stroke-width="0.12" font-size="10.2" textLength="32.7" lengthAdjust="spacingAndGlyphs">1.10200</text>
<rect x="1645" y="359" width="2" height="1" fill="#000"/>
<text x="1650.5" y="363" fill="#000" stroke="#000" stroke-width="0.12" font-size="10.2" textLength="32.7" lengthAdjust="spacingAndGlyphs">1.09930</text>
<rect x="1645" y="392" width="2" height="1" fill="#000"/>
<text x="1650.5" y="396" fill="#000" stroke="#000" stroke-width="0.12" font-size="10.2" textLength="32.7" lengthAdjust="spacingAndGlyphs">1.09660</text>
<rect x="1645" y="425" width="2" height="1" fill="#000"/>
<text x="1650.5" y="429" fill="#000" stroke="#000" stroke-width="0.12" font-size="10.2" textLength="32.7" lengthAdjust="spacingAndGlyphs">1.09390</text>
<rect x="1645" y="458" width="2" height="1" fill="#000"/>
<text x="1650.5" y="462" fill="#000" stroke="#000" stroke-width="0.12" font-size="10.2" textLength="32.7" lengthAdjust="spacingAndGlyphs">1.09120</text>
<rect x="1645" y="491" width="2" height="1" fill="#000"/>
<text x="1650.5" y="495" fill="#000" stroke="#000" stroke-width="0.12" font-size="10.2" textLength="32.7" lengthAdjust="spacingAndGlyphs">1.08850</text>
<rect x="1645" y="524" width="2" height="1" fill="#000"/>
<text x="1650.5" y="528" fill="#000" stroke="#000" stroke-width="0.12" font-size="10.2" textLength="32.7" lengthAdjust="spacingAndGlyphs">1.08580</text>
<rect x="1645" y="557" width="2" height="1" fill="#000"/>
<text x="1650.5" y="561" fill="#000" stroke="#000" stroke-width="0.12" font-size="10.2" textLength="32.7" lengthAdjust="spacingAndGlyphs">1.08310</text>
<rect x="1645" y="590" width="2" height="1" fill="#000"/>
<text x="1650.5" y="594" fill="#000" stroke="#000" stroke-width="0.12" font-size="10.2" textLength="32.7" lengthAdjust="spacingAndGlyphs">1.08040</text>
<rect x="5" y="76" width="1639" height="1" fill="#000"/>
<rect x="4" y="27" width="1640" height="2" fill="#ff0000"/>
<rect x="4" y="25" width="6" height="6" fill="#ff0000"/>
<rect x="6" y="27" width="2" height="2" fill="#fff"/>
<rect x="1638" y="25" width="6" height="6" fill="#ff0000"/>
<rect x="1640" y="27" width="2" height="2" fill="#fff"/>
<rect x="1646" y="22" width="41" height="11" fill="#ff0000"/>
<text x="1650.6" y="31" fill="#fff" stroke="#fff" stroke-width="0.12" font-size="10.2" textLength="32" lengthAdjust="spacingAndGlyphs">1.12637</text>
<rect x="4" y="53" width="1640" height="2" fill="#ff0000"/>
<rect x="4" y="51" width="6" height="6" fill="#ff0000"/>
<rect x="6" y="53" width="2" height="2" fill="#fff"/>
<rect x="1638" y="51" width="6" height="6" fill="#ff0000"/>
<rect x="1640" y="53" width="2" height="2" fill="#fff"/>
<rect x="1646" y="48" width="41" height="11" fill="#ff0000"/>
<text x="1650.6" y="57" fill="#fff" stroke="#fff" stroke-width="0.12" font-size="10.2" textLength="32" lengthAdjust="spacingAndGlyphs">1.12425</text>
<rect x="4" y="92" width="1640" height="2" fill="#ffa500"/>
<rect x="4" y="90" width="6" height="6" fill="#ffa500"/>
<rect x="6" y="92" width="2" height="2" fill="#fff"/>
<rect x="1638" y="90" width="6" height="6" fill="#ffa500"/>
<rect x="1640" y="92" width="2" height="2" fill="#fff"/>
<rect x="1646" y="87" width="41" height="11" fill="#ffa500"/>
<text x="1650.6" y="96" fill="#fff" stroke="#fff" stroke-width="0.12" font-size="10.2" textLength="32" lengthAdjust="spacingAndGlyphs">1.12111</text>
<rect x="4" y="119" width="1640" height="2" fill="#0000ff"/>
<rect x="4" y="117" width="6" height="6" fill="#0000ff"/>
<rect x="6" y="119" width="2" height="2" fill="#fff"/>
<rect x="1638" y="117" width="6" height="6" fill="#0000ff"/>
<rect x="1640" y="119" width="2" height="2" fill="#fff"/>
<rect x="1646" y="114" width="41" height="11" fill="#0000ff"/>
<text x="1650.6" y="123" fill="#fff" stroke="#fff" stroke-width="0.12" font-size="10.2" textLength="32" lengthAdjust="spacingAndGlyphs">1.11887</text>
<rect x="4" y="146" width="1640" height="2" fill="#0000ff"/>
<rect x="4" y="144" width="6" height="6" fill="#0000ff"/>
<rect x="6" y="146" width="2" height="2" fill="#fff"/>
<rect x="1638" y="144" width="6" height="6" fill="#0000ff"/>
<rect x="1640" y="146" width="2" height="2" fill="#fff"/>
<rect x="1646" y="141" width="41" height="11" fill="#0000ff"/>
<text x="1650.6" y="150" fill="#fff" stroke="#fff" stroke-width="0.12" font-size="10.2" textLength="32" lengthAdjust="spacingAndGlyphs">1.11663</text>
<rect x="1646" y="71" width="41" height="11" fill="#000"/>
<text x="1650.6" y="80" fill="#fff" stroke="#fff" stroke-width="0.12" font-size="10.2" textLength="32" lengthAdjust="spacingAndGlyphs">1.12249</text>
<polygon points="1441,24 1452,24 1446.5,29.5" fill="#000"/>
<polygon points="8,30 15.4,30 11.7,34.3" fill="#000"/>
<text x="20" y="35" fill="#000" stroke="#000" stroke-width="0.12" font-size="9.4" textLength="204" lengthAdjust="spacingAndGlyphs">EURUSD-,H4&#160; 1.12254 1.12270 1.12231 1.12249</text>
<g shape-rendering="auto"><line x1="1419.8" y1="201.2" x2="1464.5" y2="128" stroke="#e8141f" stroke-width="3"/><polygon points="1473.7,112.6 1456.6,123.4 1471.8,132.4" fill="#e8141f"/></g>
<g clip-path="url(#cmacd)">
<rect x="4" y="662" width="3" height="20" fill="#00ff00"/>
<rect x="20" y="671" width="3" height="11" fill="#00ff00"/>
<rect x="36" y="678" width="3" height="4" fill="#00ff00"/>
<rect x="52" y="682" width="3" height="1" fill="#00ff00"/>
<rect x="68" y="682" width="3" height="4" fill="#00ff00"/>
<rect x="84" y="682" width="3" height="5" fill="#00ff00"/>
<rect x="100" y="682" width="3" height="6" fill="#00ff00"/>
<rect x="116" y="682" width="3" height="7" fill="#00ff00"/>
<rect x="132" y="682" width="3" height="6" fill="#00ff00"/>
<rect x="148" y="682" width="3" height="6" fill="#00ff00"/>
<rect x="164" y="682" width="3" height="7" fill="#00ff00"/>
<rect x="180" y="682" width="3" height="5" fill="#00ff00"/>
<rect x="196" y="682" width="3" height="4" fill="#00ff00"/>
<rect x="212" y="682" width="3" height="2" fill="#00ff00"/>
<rect x="228" y="681" width="3" height="1" fill="#00ff00"/>
<rect x="244" y="677" width="3" height="5" fill="#00ff00"/>
<rect x="260" y="674" width="3" height="8" fill="#00ff00"/>
<rect x="276" y="673" width="3" height="9" fill="#00ff00"/>
<rect x="292" y="672" width="3" height="10" fill="#00ff00"/>
<rect x="308" y="672" width="3" height="10" fill="#00ff00"/>
<rect x="324" y="673" width="3" height="9" fill="#00ff00"/>
<rect x="340" y="676" width="3" height="6" fill="#00ff00"/>
<rect x="356" y="679" width="3" height="3" fill="#00ff00"/>
<rect x="372" y="681" width="3" height="1" fill="#00ff00"/>
<rect x="388" y="682" width="3" height="3" fill="#00ff00"/>
<rect x="404" y="682" width="3" height="4" fill="#00ff00"/>
<rect x="420" y="682" width="3" height="2" fill="#00ff00"/>
<rect x="436" y="682" width="3" height="6" fill="#00ff00"/>
<rect x="452" y="682" width="3" height="10" fill="#00ff00"/>
<rect x="468" y="682" width="3" height="13" fill="#00ff00"/>
<rect x="484" y="682" width="3" height="15" fill="#00ff00"/>
<rect x="500" y="682" width="3" height="18" fill="#00ff00"/>
<rect x="516" y="682" width="3" height="21" fill="#00ff00"/>
<rect x="532" y="682" width="3" height="16" fill="#00ff00"/>
<rect x="548" y="682" width="3" height="12" fill="#00ff00"/>
<rect x="564" y="682" width="3" height="11" fill="#00ff00"/>
<rect x="580" y="682" width="3" height="9" fill="#00ff00"/>
<rect x="596" y="682" width="3" height="10" fill="#00ff00"/>
<rect x="612" y="682" width="3" height="9" fill="#00ff00"/>
<rect x="628" y="682" width="3" height="7" fill="#00ff00"/>
<rect x="644" y="682" width="3" height="5" fill="#00ff00"/>
<rect x="660" y="682" width="3" height="4" fill="#00ff00"/>
<rect x="676" y="682" width="3" height="3" fill="#00ff00"/>
<rect x="692" y="682" width="3" height="3" fill="#00ff00"/>
<rect x="708" y="682" width="3" height="4" fill="#00ff00"/>
<rect x="724" y="682" width="3" height="4" fill="#00ff00"/>
<rect x="740" y="682" width="3" height="4" fill="#00ff00"/>
<rect x="756" y="682" width="3" height="6" fill="#00ff00"/>
<rect x="772" y="682" width="3" height="8" fill="#00ff00"/>
<rect x="788" y="682" width="3" height="8" fill="#00ff00"/>
<rect x="804" y="682" width="3" height="8" fill="#00ff00"/>
<rect x="820" y="682" width="3" height="10" fill="#00ff00"/>
<rect x="836" y="682" width="3" height="12" fill="#00ff00"/>
<rect x="852" y="682" width="3" height="14" fill="#00ff00"/>
<rect x="868" y="682" width="3" height="16" fill="#00ff00"/>
<rect x="884" y="682" width="3" height="17" fill="#00ff00"/>
<rect x="900" y="682" width="3" height="13" fill="#00ff00"/>
<rect x="916" y="682" width="3" height="11" fill="#00ff00"/>
<rect x="932" y="682" width="3" height="10" fill="#00ff00"/>
<rect x="948" y="682" width="3" height="8" fill="#00ff00"/>
<rect x="964" y="682" width="3" height="7" fill="#00ff00"/>
<rect x="980" y="682" width="3" height="7" fill="#00ff00"/>
<rect x="996" y="682" width="3" height="5" fill="#00ff00"/>
<rect x="1012" y="678" width="3" height="4" fill="#00ff00"/>
<rect x="1028" y="672" width="3" height="10" fill="#00ff00"/>
<rect x="1044" y="667" width="3" height="15" fill="#00ff00"/>
<rect x="1060" y="664" width="3" height="18" fill="#00ff00"/>
<rect x="1076" y="662" width="3" height="20" fill="#00ff00"/>
<rect x="1092" y="661" width="3" height="21" fill="#00ff00"/>
<rect x="1108" y="657" width="3" height="25" fill="#00ff00"/>
<rect x="1124" y="654" width="3" height="28" fill="#00ff00"/>
<rect x="1140" y="651" width="3" height="31" fill="#00ff00"/>
<rect x="1156" y="647" width="3" height="35" fill="#00ff00"/>
<rect x="1172" y="646" width="3" height="36" fill="#00ff00"/>
<rect x="1188" y="648" width="3" height="34" fill="#00ff00"/>
<rect x="1204" y="649" width="3" height="33" fill="#00ff00"/>
<rect x="1220" y="648" width="3" height="34" fill="#00ff00"/>
<rect x="1236" y="648" width="3" height="34" fill="#00ff00"/>
<rect x="1252" y="647" width="3" height="35" fill="#00ff00"/>
<rect x="1268" y="646" width="3" height="36" fill="#00ff00"/>
<rect x="1284" y="647" width="3" height="35" fill="#00ff00"/>
<rect x="1300" y="639" width="3" height="43" fill="#00ff00"/>
<rect x="1316" y="631" width="3" height="51" fill="#00ff00"/>
<rect x="1332" y="625" width="3" height="57" fill="#00ff00"/>
<rect x="1348" y="621" width="3" height="61" fill="#00ff00"/>
<rect x="1364" y="618" width="3" height="64" fill="#00ff00"/>
<rect x="1380" y="614" width="3" height="68" fill="#00ff00"/>
<rect x="1396" y="610" width="3" height="72" fill="#00ff00"/>
<rect x="1412" y="605" width="3" height="77" fill="#00ff00"/>
<rect x="1428" y="602" width="3" height="80" fill="#00ff00"/>
<polyline points="5.5,656 21.5,656 37.5,658 53.5,662 69.5,666 85.5,670 101.5,674 117.5,677.5 133.5,680.5 149.5,684 165.5,685 181.5,686.5 197.5,686.5 213.5,686.5 229.5,686.5 245.5,685 261.5,683.5 277.5,682 293.5,680 309.5,678 325.5,677.5 341.5,677 357.5,676 373.5,675.5 389.5,676 405.5,677 421.5,678 437.5,680.5 453.5,682 469.5,684 485.5,687 501.5,689 517.5,691 533.5,693 549.5,694 565.5,695 581.5,695 597.5,695 613.5,695 629.5,694.5 645.5,692 661.5,690 677.5,689 693.5,688 709.5,687 725.5,686 741.5,686 757.5,686 773.5,686 789.5,686 805.5,686.5 821.5,687 837.5,688 853.5,689 869.5,691 885.5,692 901.5,692.5 917.5,693 933.5,693.5 949.5,693.5 965.5,693.5 981.5,693 997.5,693 1013.5,689.5 1029.5,687.5 1045.5,684 1061.5,680 1077.5,677.5 1093.5,674.5 1109.5,671.5 1125.5,667.5 1141.5,663.5 1157.5,659.5 1173.5,657.5 1189.5,654.5 1205.5,653.5 1221.5,651.5 1237.5,650.5 1253.5,650 1269.5,649 1285.5,648 1301.5,647 1317.5,646 1333.5,642.5 1349.5,639.5 1365.5,636.5 1381.5,632.5 1397.5,628.5 1413.5,623.5 1429.5,619" fill="none" stroke="#ff0000" stroke-width="2" shape-rendering="crispEdges"/>
</g>
<text x="9" y="608" fill="#000" stroke="#000" stroke-width="0.12" font-size="10.2" textLength="148" lengthAdjust="spacingAndGlyphs">MACD(12,26,9) 0.007003 0.005544</text>
<rect x="1645" y="597" width="1" height="1" fill="#000"/>
<text x="1648" y="606" fill="#000" stroke="#000" stroke-width="0.12" font-size="10.2" textLength="38" lengthAdjust="spacingAndGlyphs">0.007439</text>
<rect x="1645" y="682" width="2" height="1" fill="#000"/>
<text x="1648.6" y="686" fill="#000" stroke="#000" stroke-width="0.12" font-size="10.2" textLength="17" lengthAdjust="spacingAndGlyphs">0.00</text>
<rect x="1645" y="706" width="1" height="1" fill="#000"/>
<text x="1648" y="704" fill="#000" stroke="#000" stroke-width="0.12" font-size="10.2" textLength="40.5" lengthAdjust="spacingAndGlyphs">-0.002156</text>
<line x1="6" y1="732.5" x2="1644" y2="732.5" stroke="#000" stroke-width="1" stroke-dasharray="3,3"/>
<line x1="6" y1="765.5" x2="1644" y2="765.5" stroke="#000" stroke-width="1" stroke-dasharray="3,3"/>
<line x1="6" y1="803.5" x2="1644" y2="803.5" stroke="#000" stroke-width="1" stroke-dasharray="3,3"/>
<g clip-path="url(#crsi)">
<polyline points="5.5,765.5 21.5,781 37.5,779 53.5,776 69.5,774.5 85.5,769.5 101.5,769.5 117.5,770 133.5,765.5 149.5,769 165.5,769 181.5,768.5 197.5,762.5 213.5,758.5 229.5,756.5 245.5,752 261.5,752 277.5,754 293.5,757 309.5,757 325.5,762.5 341.5,774 357.5,770 373.5,770 389.5,777 405.5,768.5 421.5,762 437.5,777 453.5,778 469.5,778 485.5,778 501.5,780.5 517.5,780.5 533.5,763 549.5,764.5 565.5,765 581.5,764 597.5,772 613.5,766.5 629.5,763 645.5,764 661.5,764 677.5,765.5 693.5,766.5 709.5,766.5 725.5,766.5 741.5,771.5 757.5,772.5 773.5,772.5 789.5,770 805.5,772.5 821.5,775 837.5,778.5 853.5,779 869.5,783 885.5,777.5 901.5,763 917.5,768 933.5,764 949.5,764 965.5,764 981.5,768 997.5,764.5 1013.5,747 1029.5,746.5 1045.5,745.5 1061.5,750.5 1077.5,751 1093.5,751 1109.5,744 1125.5,742 1141.5,741.5 1157.5,739.5 1173.5,743 1189.5,753 1205.5,751 1221.5,748 1237.5,746.5 1253.5,743.5 1269.5,743.5 1285.5,750 1301.5,734 1317.5,733.5 1333.5,732.5 1349.5,732 1365.5,731 1381.5,729 1397.5,728 1413.5,726 1429.5,725.5" fill="none" stroke="#1e90ff" stroke-width="2" shape-rendering="crispEdges"/>
</g>
<text x="9" y="722" fill="#000" stroke="#000" stroke-width="0.12" font-size="10.2" textLength="68" lengthAdjust="spacingAndGlyphs">RSI(14) 85.9910</text>
<rect x="1645" y="711" width="1" height="1" fill="#000"/>
<text x="1648" y="720" fill="#000" stroke="#000" stroke-width="0.12" font-size="10.2" textLength="15" lengthAdjust="spacingAndGlyphs">100</text>
<text x="1647" y="736" fill="#000" stroke="#000" stroke-width="0.12" font-size="10.2" textLength="10" lengthAdjust="spacingAndGlyphs">80</text>
<text x="1647" y="769" fill="#000" stroke="#000" stroke-width="0.12" font-size="10.2" textLength="10" lengthAdjust="spacingAndGlyphs">50</text>
<text x="1647" y="807" fill="#000" stroke="#000" stroke-width="0.12" font-size="10.2" textLength="10" lengthAdjust="spacingAndGlyphs">15</text>
<text x="1648" y="817" fill="#000" stroke="#000" stroke-width="0.12" font-size="10.2" textLength="5" lengthAdjust="spacingAndGlyphs">0</text>
<rect x="5" y="821" width="1" height="3" fill="#000"/>
<text x="4" y="833" fill="#000" stroke="#000" stroke-width="0.12" font-size="10.2" textLength="50" lengthAdjust="spacingAndGlyphs">23 Jun 2023</text>
<rect x="69" y="821" width="1" height="3" fill="#000"/>
<text x="68" y="833" fill="#000" stroke="#000" stroke-width="0.12" font-size="10.2" textLength="53" lengthAdjust="spacingAndGlyphs">23 Jun 16:00</text>
<rect x="133" y="821" width="1" height="3" fill="#000"/>
<text x="132" y="833" fill="#000" stroke="#000" stroke-width="0.12" font-size="10.2" textLength="53" lengthAdjust="spacingAndGlyphs">26 Jun 08:00</text>
<rect x="197" y="821" width="1" height="3" fill="#000"/>
<text x="196" y="833" fill="#000" stroke="#000" stroke-width="0.12" font-size="10.2" textLength="53" lengthAdjust="spacingAndGlyphs">27 Jun 00:00</text>
<rect x="261" y="821" width="1" height="3" fill="#000"/>
<text x="260" y="833" fill="#000" stroke="#000" stroke-width="0.12" font-size="10.2" textLength="53" lengthAdjust="spacingAndGlyphs">27 Jun 16:00</text>
<rect x="325" y="821" width="1" height="3" fill="#000"/>
<text x="324" y="833" fill="#000" stroke="#000" stroke-width="0.12" font-size="10.2" textLength="53" lengthAdjust="spacingAndGlyphs">28 Jun 08:00</text>
<rect x="389" y="821" width="1" height="3" fill="#000"/>
<text x="388" y="833" fill="#000" stroke="#000" stroke-width="0.12" font-size="10.2" textLength="53" lengthAdjust="spacingAndGlyphs">29 Jun 00:00</text>
<rect x="453" y="821" width="1" height="3" fill="#000"/>
<text x="452" y="833" fill="#000" stroke="#000" stroke-width="0.12" font-size="10.2" textLength="53" lengthAdjust="spacingAndGlyphs">29 Jun 16:00</text>
<rect x="517" y="821" width="1" height="3" fill="#000"/>
<text x="516" y="833" fill="#000" stroke="#000" stroke-width="0.12" font-size="10.2" textLength="53" lengthAdjust="spacingAndGlyphs">30 Jun 08:00</text>
<rect x="581" y="821" width="1" height="3" fill="#000"/>
<text x="580" y="833" fill="#000" stroke="#000" stroke-width="0.12" font-size="10.2" textLength="45" lengthAdjust="spacingAndGlyphs">3 Jul 00:00</text>
<rect x="645" y="821" width="1" height="3" fill="#000"/>
<text x="644" y="833" fill="#000" stroke="#000" stroke-width="0.12" font-size="10.2" textLength="45" lengthAdjust="spacingAndGlyphs">3 Jul 16:00</text>
<rect x="709" y="821" width="1" height="3" fill="#000"/>
<text x="708" y="833" fill="#000" stroke="#000" stroke-width="0.12" font-size="10.2" textLength="45" lengthAdjust="spacingAndGlyphs">4 Jul 08:00</text>
<rect x="773" y="821" width="1" height="3" fill="#000"/>
<text x="772" y="833" fill="#000" stroke="#000" stroke-width="0.12" font-size="10.2" textLength="45" lengthAdjust="spacingAndGlyphs">5 Jul 00:00</text>
<rect x="837" y="821" width="1" height="3" fill="#000"/>
<text x="836" y="833" fill="#000" stroke="#000" stroke-width="0.12" font-size="10.2" textLength="45" lengthAdjust="spacingAndGlyphs">5 Jul 16:00</text>
<rect x="901" y="821" width="1" height="3" fill="#000"/>
<text x="900" y="833" fill="#000" stroke="#000" stroke-width="0.12" font-size="10.2" textLength="45" lengthAdjust="spacingAndGlyphs">6 Jul 08:00</text>
<rect x="965" y="821" width="1" height="3" fill="#000"/>
<text x="964" y="833" fill="#000" stroke="#000" stroke-width="0.12" font-size="10.2" textLength="45" lengthAdjust="spacingAndGlyphs">7 Jul 00:00</text>
<rect x="1029" y="821" width="1" height="3" fill="#000"/>
<text x="1028" y="833" fill="#000" stroke="#000" stroke-width="0.12" font-size="10.2" textLength="45" lengthAdjust="spacingAndGlyphs">7 Jul 16:00</text>
<rect x="1093" y="821" width="1" height="3" fill="#000"/>
<text x="1092" y="833" fill="#000" stroke="#000" stroke-width="0.12" font-size="10.2" textLength="50" lengthAdjust="spacingAndGlyphs">10 Jul 08:00</text>
<rect x="1157" y="821" width="1" height="3" fill="#000"/>
<text x="1156" y="833" fill="#000" stroke="#000" stroke-width="0.12" font-size="10.2" textLength="50" lengthAdjust="spacingAndGlyphs">11 Jul 00:00</text>
<rect x="1221" y="821" width="1" height="3" fill="#000"/>
<text x="1220" y="833" fill="#000" stroke="#000" stroke-width="0.12" font-size="10.2" textLength="50" lengthAdjust="spacingAndGlyphs">11 Jul 16:00</text>
<rect x="1285" y="821" width="1" height="3" fill="#000"/>
<text x="1284" y="833" fill="#000" stroke="#000" stroke-width="0.12" font-size="10.2" textLength="50" lengthAdjust="spacingAndGlyphs">12 Jul 08:00</text>
<rect x="1349" y="821" width="1" height="3" fill="#000"/>
<text x="1348" y="833" fill="#000" stroke="#000" stroke-width="0.12" font-size="10.2" textLength="50" lengthAdjust="spacingAndGlyphs">13 Jul 00:00</text>
<rect x="1413" y="821" width="1" height="3" fill="#000"/>
<text x="1412" y="833" fill="#000" stroke="#000" stroke-width="0.12" font-size="10.2" textLength="50" lengthAdjust="spacingAndGlyphs">13 Jul 16:00</text>
</svg>
</body></html>
